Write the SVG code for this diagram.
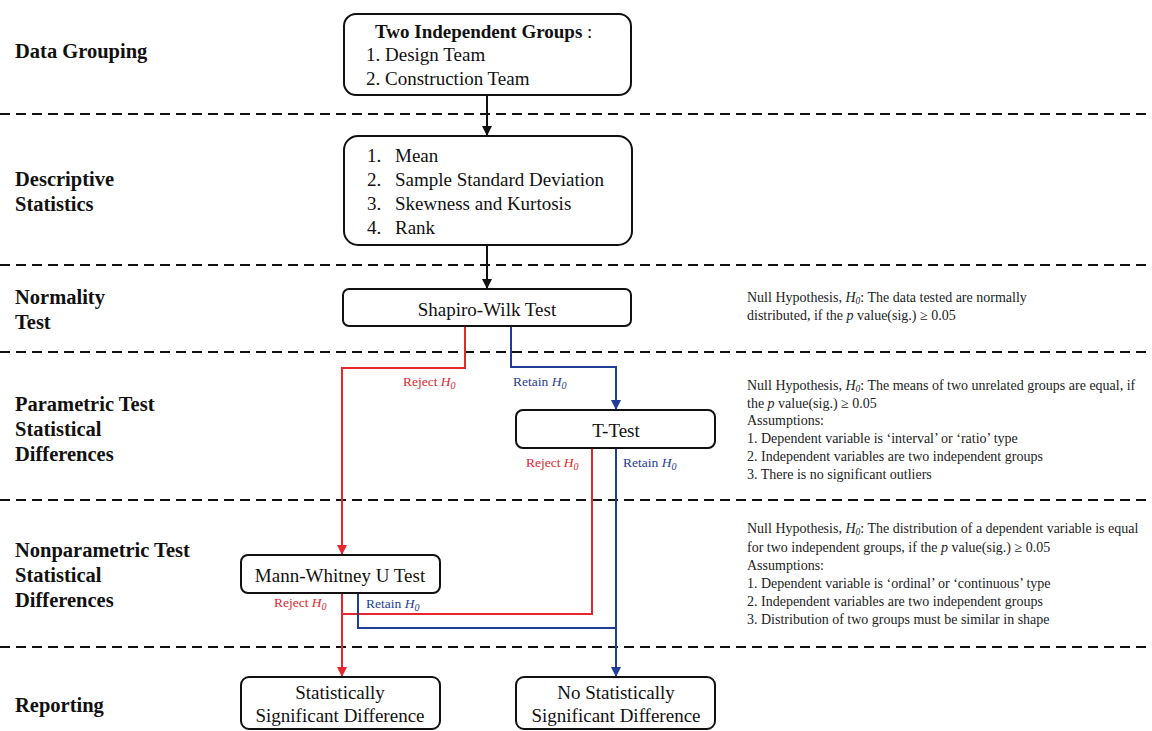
<svg xmlns="http://www.w3.org/2000/svg" width="1152" height="731" viewBox="0 0 1152 731">
<style>
  .lbl{font-family:"Liberation Serif","Times New Roman",serif;font-weight:bold;font-size:20.5px;fill:#111}
  .bx{font-family:"Liberation Serif","Times New Roman",serif;font-size:19px;fill:#111}
  .bxb{font-family:"Liberation Serif","Times New Roman",serif;font-size:19px;font-weight:bold;fill:#111}
  .note{font-family:"Liberation Serif","Times New Roman",serif;font-size:14px;fill:#222}
  .rl{font-family:"Liberation Serif","Times New Roman",serif;font-size:13.5px;fill:#e0282d}
  .bl{font-family:"Liberation Serif","Times New Roman",serif;font-size:13.5px;fill:#1f3c96}
  .it{font-style:italic}
  .node rect{fill:#fff;stroke:#111;stroke-width:2}
  .dash{stroke:#111;stroke-width:2;stroke-dasharray:10 6;fill:none}
  .ck{stroke:#111;stroke-width:2;fill:none}
  .cr{stroke:#e8262b;stroke-width:2;fill:none}
  .cb{stroke:#1f3c96;stroke-width:2;fill:none}
</style>
<defs>
  <marker id="ak" markerUnits="userSpaceOnUse" markerWidth="10" markerHeight="10" refX="10" refY="5" orient="auto"><path d="M0,0 L10,5 L0,10 z" fill="#111"/></marker>
  <marker id="ar" markerUnits="userSpaceOnUse" markerWidth="10" markerHeight="10" refX="10" refY="5" orient="auto"><path d="M0,0 L10,5 L0,10 z" fill="#e8262b"/></marker>
  <marker id="ab" markerUnits="userSpaceOnUse" markerWidth="10" markerHeight="10" refX="10" refY="5" orient="auto"><path d="M0,0 L10,5 L0,10 z" fill="#1f3c96"/></marker>
</defs>
<rect width="1152" height="731" fill="#fff"/>

<g id="separators">
  <line class="dash" x1="0" y1="114" x2="1152" y2="114"/>
  <line class="dash" x1="0" y1="265" x2="1152" y2="265"/>
  <line class="dash" x1="0" y1="352" x2="1152" y2="352"/>
  <line class="dash" x1="0" y1="500" x2="1152" y2="500"/>
  <line class="dash" x1="0" y1="647" x2="1152" y2="647"/>
</g>

<g id="stage-labels">
  <text class="lbl" x="15" y="58">Data Grouping</text>
  <text class="lbl" x="15" y="186">Descriptive</text>
  <text class="lbl" x="15" y="211">Statistics</text>
  <text class="lbl" x="15" y="304">Normality</text>
  <text class="lbl" x="15" y="329">Test</text>
  <text class="lbl" x="15" y="411">Parametric Test</text>
  <text class="lbl" x="15" y="436">Statistical</text>
  <text class="lbl" x="15" y="461">Differences</text>
  <text class="lbl" x="15" y="557">Nonparametric Test</text>
  <text class="lbl" x="15" y="582">Statistical</text>
  <text class="lbl" x="15" y="607">Differences</text>
  <text class="lbl" x="15" y="712">Reporting</text>
</g>

<g id="connectors">
  <path class="ck" d="M487 95 V136" marker-end="url(#ak)"/>
  <path class="ck" d="M487 245 V289" marker-end="url(#ak)"/>
  <path class="cr" d="M465 326 V368 H342 V555" marker-end="url(#ar)"/>
  <path class="cb" d="M511 326 V367 H616 V410" marker-end="url(#ab)"/>
  <path class="cr" d="M592 448 V614 H342"/>
  <path class="cb" d="M616 448 V677" marker-end="url(#ab)"/>
  <path class="cr" d="M342 593 V677" marker-end="url(#ar)"/>
  <path class="cb" d="M358 593 V628 H616"/>
</g>

<g id="connector-labels">
  <text class="rl" x="403" y="386">Reject <tspan class="it">H</tspan><tspan class="it" font-size="10" dy="3">0</tspan></text>
  <text class="bl" x="513" y="386">Retain <tspan class="it">H</tspan><tspan class="it" font-size="10" dy="3">0</tspan></text>
  <text class="rl" x="526" y="467">Reject <tspan class="it">H</tspan><tspan class="it" font-size="10" dy="3">0</tspan></text>
  <text class="bl" x="623" y="467">Retain <tspan class="it">H</tspan><tspan class="it" font-size="10" dy="3">0</tspan></text>
  <text class="rl" x="274" y="607">Reject <tspan class="it">H</tspan><tspan class="it" font-size="10" dy="3">0</tspan></text>
  <text class="bl" x="366" y="608">Retain <tspan class="it">H</tspan><tspan class="it" font-size="10" dy="3">0</tspan></text>
</g>

<g id="node-grouping" class="node">
  <rect x="344" y="14" width="287" height="81" rx="12"/>
  <text class="bxb" x="375" y="38">Two Independent Groups <tspan font-weight="normal">:</tspan></text>
  <text class="bx" x="366" y="61">1. Design Team</text>
  <text class="bx" x="366" y="85">2. Construction Team</text>
</g>

<g id="node-descriptive" class="node">
  <rect x="344" y="136" width="288" height="109" rx="14"/>
  <text class="bx" x="367" y="162">1.</text><text class="bx" x="395" y="162">Mean</text>
  <text class="bx" x="367" y="186">2.</text><text class="bx" x="395" y="186">Sample Standard Deviation</text>
  <text class="bx" x="367" y="210">3.</text><text class="bx" x="395" y="210">Skewness and Kurtosis</text>
  <text class="bx" x="367" y="234">4.</text><text class="bx" x="395" y="234">Rank</text>
</g>

<g id="node-shapiro" class="node">
  <rect x="343" y="289" width="288" height="37" rx="6"/>
  <text class="bx" x="487" y="316" text-anchor="middle">Shapiro-Wilk Test</text>
</g>

<g id="node-ttest" class="node">
  <rect x="516" y="410" width="199" height="38" rx="7"/>
  <text class="bx" x="616" y="437" text-anchor="middle">T-Test</text>
</g>

<g id="node-mannwhitney" class="node">
  <rect x="241" y="555" width="199" height="38" rx="7"/>
  <text class="bx" x="340" y="582" text-anchor="middle">Mann-Whitney U Test</text>
</g>

<g id="node-significant" class="node">
  <rect x="241" y="677" width="199" height="52" rx="8"/>
  <text class="bx" x="340" y="699" text-anchor="middle">Statistically</text>
  <text class="bx" x="340" y="722" text-anchor="middle">Significant Difference</text>
</g>

<g id="node-not-significant" class="node">
  <rect x="516" y="677" width="199" height="52" rx="8"/>
  <text class="bx" x="616" y="699" text-anchor="middle">No Statistically</text>
  <text class="bx" x="616" y="722" text-anchor="middle">Significant Difference</text>
</g>

<g id="note-normality">
  <text class="note" x="747" y="302">Null Hypothesis, <tspan class="it">H</tspan><tspan class="it" font-size="9.5" dy="2">0</tspan><tspan dy="-2">: The data tested are normally</tspan></text>
  <text class="note" x="747" y="320">distributed, if the <tspan class="it">p</tspan> value(sig.) ≥ 0.05</text>
</g>

<g id="note-parametric">
  <text class="note" x="747" y="390">Null Hypothesis, <tspan class="it">H</tspan><tspan class="it" font-size="9.5" dy="2">0</tspan><tspan dy="-2">: The means of two unrelated groups are equal, if</tspan></text>
  <text class="note" x="747" y="408">the <tspan class="it">p</tspan> value(sig.) ≥ 0.05</text>
  <text class="note" x="747" y="425">Assumptions:</text>
  <text class="note" x="747" y="443">1. Dependent variable is ‘interval’ or ‘ratio’ type</text>
  <text class="note" x="747" y="461">2. Independent variables are two independent groups</text>
  <text class="note" x="747" y="479">3. There is no significant outliers</text>
</g>

<g id="note-nonparametric">
  <text class="note" x="747" y="533">Null Hypothesis, <tspan class="it">H</tspan><tspan class="it" font-size="9.5" dy="2">0</tspan><tspan dy="-2">: The distribution of a dependent variable is equal</tspan></text>
  <text class="note" x="747" y="552">for two independent groups, if the <tspan class="it">p</tspan> value(sig.) ≥ 0.05</text>
  <text class="note" x="747" y="570">Assumptions:</text>
  <text class="note" x="747" y="588">1. Dependent variable is ‘ordinal’ or ‘continuous’ type</text>
  <text class="note" x="747" y="606">2. Independent variables are two independent groups</text>
  <text class="note" x="747" y="624">3. Distribution of two groups must be similar in shape</text>
</g>
</svg>
